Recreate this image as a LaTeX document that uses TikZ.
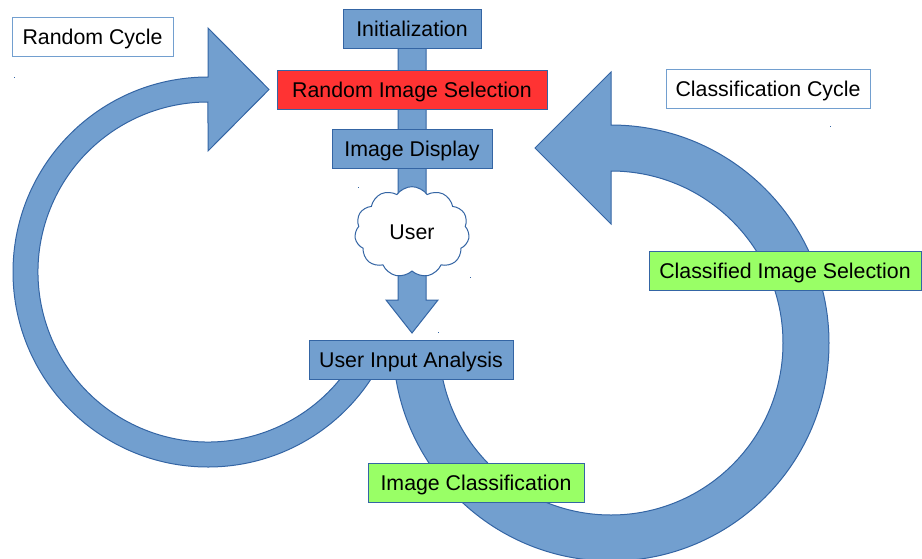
\documentclass[tikz,border=0pt]{standalone}
\usepackage{fontspec}
\setmainfont{Liberation Sans}
\usetikzlibrary{shapes.symbols}
\definecolor{boxblue}{HTML}{729FCF}
\definecolor{edgeblue}{HTML}{3465A4}
\definecolor{selred}{HTML}{FF3333}
\definecolor{selgreen}{HTML}{99FF66}
\begin{document}
\begin{tikzpicture}[x=0.75pt,y=-0.75pt,
  arrowshape/.style={fill=boxblue, draw=edgeblue, line width=0.75pt, line join=miter},
  basebox/.style={rectangle, draw=edgeblue, line width=0.75pt, minimum height=29.25pt, inner sep=0pt, text height=11.5pt, text depth=0pt, font=\fontsize{16}{19}\selectfont, text=black},
  bluebox/.style={basebox, fill=boxblue},
  redbox/.style={basebox, fill=selred},
  greenbox/.style={basebox, fill=selgreen},
  labelbox/.style={basebox, fill=white, draw=boxblue},
  speck/.style={fill=edgeblue},
]
\useasboundingbox (0,0) rectangle (922,558);

% left (random) cycle ring arrow
\draw[arrowshape] (208,77) arc[start angle=270, end angle=25, radius=195]
  -- (362.07,343.84) arc[start angle=25, end angle=270, radius=170]
  -- (208,151) -- (269,89.5) -- (208,28) -- cycle;

% right (classification) cycle ring arrow
\draw[arrowshape] (393,343) arc[start angle=180, end angle=-90, radius=218]
  -- (611,72) -- (535,148) -- (611,224) -- (611,171)
  arc[start angle=-90, end angle=180, radius=172] -- cycle;

% vertical flow arrow
\draw[arrowshape] (398,48) -- (398,300) -- (386,300) -- (412,333) -- (438,300) -- (426,300) -- (426,48) -- cycle;

% user cloud
\node[cloud, cloud puffs=11, cloud puff arc=110, aspect=1.3, draw=edgeblue, fill=white,
  line width=0.75pt, minimum width=86pt, minimum height=68pt, inner sep=0pt,
  text height=11.5pt, text depth=0pt,
  font=\fontsize{16}{19}\selectfont] (user) at (412,232) {User};

% boxes
\node[labelbox, minimum width=120.75pt] (rc) at (92.5,36.5) {Random Cycle};
\node[bluebox, minimum width=103.5pt] (init) at (412,29) {Initialization};
\node[redbox, minimum width=202.5pt] (ris) at (412,90) {Random Image Selection};
\node[bluebox, minimum width=120pt] (disp) at (412,148.5) {Image Display};
\node[bluebox, minimum width=153pt] (uia) at (411,359.5) {User Input Analysis};
\node[greenbox, minimum width=162pt] (ic) at (476,482.5) {Image Classification};
\node[greenbox, minimum width=204pt] (cis) at (785,270.5) {Classified Image Selection};
\node[labelbox, minimum width=153pt] (cc) at (768,88.5) {Classification Cycle};

% small specks
\coordinate (s1) at (14,77);
\coordinate (s2) at (358,187);
\coordinate (s3) at (470,277);
\coordinate (s4) at (438,332);
\coordinate (s5) at (830,126);
\foreach \s in {s1,s2,s3,s4,s5} \fill[speck] (\s) rectangle ++(1.3,1.3);
\end{tikzpicture}
\end{document}
